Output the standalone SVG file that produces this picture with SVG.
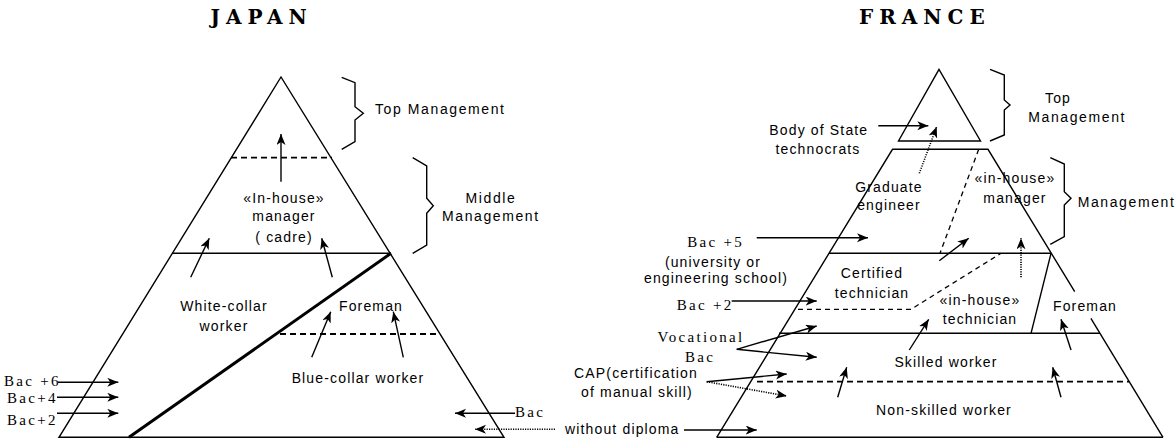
<svg xmlns="http://www.w3.org/2000/svg" width="1176" height="439" viewBox="0 0 1176 439">
<style>
.ln{fill:none;stroke:#000;stroke-width:1.4}
.thick{fill:none;stroke:#000;stroke-width:3}
.dash{fill:none;stroke:#000;stroke-width:1.8;stroke-dasharray:6 4}
.dash2{fill:none;stroke:#000;stroke-width:1.3;stroke-dasharray:5 4}
.ar{fill:none;stroke:#000;stroke-width:1.4;marker-end:url(#ah)}
.dot{fill:none;stroke:#000;stroke-width:1.6;stroke-dasharray:1.2 1.2;marker-end:url(#ah)}
.s{font-family:"Liberation Sans",Arial,sans-serif;font-size:14px;letter-spacing:1.15px;fill:#000}
.m{text-anchor:middle}
.w{letter-spacing:1.6px}
.r{font-family:"Liberation Serif","Times New Roman",serif;font-size:15px;letter-spacing:2.3px;fill:#000}
.t{font-family:"DejaVu Serif","Liberation Serif",serif;font-size:20px;font-weight:bold;letter-spacing:6px;fill:#000}
</style>
<defs>
<marker id="ah" markerWidth="12" markerHeight="10" refX="11" refY="4.5" orient="auto" markerUnits="userSpaceOnUse">
<path d="M0,0 L11,4.5 L0,9 L3,4.5 z" fill="#000"/>
</marker>
</defs>
<rect width="1176" height="439" fill="#fff"/>

<g id="title-japan"><text class="t" x="210.5" y="23.5">JAPAN</text></g>
<g id="title-france"><text class="t" x="859" y="23.5">FRANCE</text></g>

<g id="japan-pyramid">
<polygon class="ln" points="281,77 59,437.3 504,437.3"/>
<line class="ln" x1="172.5" y1="253.3" x2="391" y2="253.3"/>
<line class="thick" x1="391" y1="253.3" x2="129" y2="437.3"/>
<line class="dash" x1="231" y1="157.7" x2="332" y2="157.7"/>
<line class="dash" x1="280" y1="334" x2="440" y2="334"/>
</g>

<g id="japan-top-brace">
<path class="ln" d="M341.7,77.3 L355,82.7 L355,106.7 L363.3,113.3 L355,120 L355,141.7 L341.7,149.3"/>
<text class="s w" x="375" y="114">Top Management</text>
</g>
<g id="japan-middle-brace">
<path class="ln" d="M412.7,157.7 L426.7,166 L426.7,198.3 L433.3,205.7 L426.7,213.3 L426.7,245 L412.7,253.3"/>
<text class="s m w" x="491" y="202.7">Middle</text>
<text class="s w" x="442" y="221">Management</text>
</g>

<g id="japan-manager">
<text class="s m" x="284" y="202.7">«In-house»</text>
<text class="s m" x="284" y="220.7">manager</text>
<text class="s m" x="284" y="241.7">( cadre)</text>
</g>
<g id="japan-white-collar">
<text class="s m" x="224" y="310.7">White-collar</text>
<text class="s m" x="224" y="330.7">worker</text>
</g>
<g id="japan-foreman"><text class="s m" x="371" y="310.7">Foreman</text></g>
<g id="japan-blue-collar"><text class="s m" x="358" y="382.7">Blue-collar worker</text></g>
<g id="japan-bac6"><text class="r" x="4" y="385.7">Bac +6</text></g>
<g id="japan-bac4"><text class="r" x="7" y="403.3">Bac+4</text></g>
<g id="japan-bac2"><text class="r" x="7" y="425">Bac+2</text></g>
<g id="japan-bac"><text class="r" x="515" y="417.3">Bac</text></g>
<g id="without-diploma"><text class="s" x="565" y="434">without diploma</text></g>

<g id="france-pyramid">
<polygon class="ln" points="939,69.3 898.5,141 980.5,141"/>
<polyline class="ln" points="716.7,437.3 892.5,149.3 988,149.3 1074.7,291.7"/>
<line class="ln" x1="1090.9" y1="318.3" x2="1163" y2="437.3"/>
<line class="ln" x1="716.7" y1="437.3" x2="1163" y2="437.3"/>
<line class="ln" x1="829" y1="253.3" x2="1051" y2="253.3"/>
<line class="ln" x1="1051" y1="253.3" x2="1031" y2="333.3"/>
<line class="ln" x1="779" y1="333.3" x2="1100" y2="333.3"/>
<line class="dash" x1="757" y1="381.7" x2="1129" y2="381.7"/>
<line class="dash2" x1="978.7" y1="149.3" x2="940" y2="253.3"/>
<polyline class="dash2" points="798,309.3 911,309.3 1001,253.3"/>
</g>

<g id="france-top-brace">
<path class="ln" d="M990,69.3 L1004.3,75 L1004.3,100 L1010,105 L1004.3,110 L1004.3,135 L990,141"/>
<text class="s m" x="1058" y="103.3">Top</text>
<text class="s w" x="1028.3" y="121.7">Management</text>
</g>
<g id="france-mgmt-brace">
<path class="ln" d="M1050.3,157.7 L1064.3,164 L1064.3,191.7 L1071,198.3 L1064.3,205 L1064.3,236.7 L1050.3,244.3"/>
<text class="s w" x="1077.7" y="206.7">Management</text>
</g>

<g id="france-technocrats">
<text class="s" x="769.3" y="135">Body of State</text>
<text class="s m" x="818" y="154.3">technocrats</text>
</g>
<g id="france-graduate">
<text class="s m" x="889" y="191.7">Graduate</text>
<text class="s m" x="889" y="210">engineer</text>
</g>
<g id="france-manager">
<text class="s m" x="1015" y="183.3">«in-house»</text>
<text class="s m" x="1015" y="203.3">manager</text>
</g>
<g id="france-bac5">
<text class="r" x="687.3" y="246.7">Bac +5</text>
<text class="s m" x="713" y="266.7">(university or</text>
<text class="s m" x="716" y="283.3">engineering school)</text>
</g>
<g id="france-certified">
<text class="s m" x="872" y="278.3">Certified</text>
<text class="s m" x="872" y="298.3">technician</text>
</g>
<g id="france-bac2"><text class="r" x="676.7" y="310">Bac +2</text></g>
<g id="france-inhouse-tech">
<text class="s m" x="980" y="305">«in-house»</text>
<text class="s m" x="980" y="324.3">technician</text>
</g>
<g id="france-foreman"><text class="s m" x="1085" y="310.7">Foreman</text></g>
<g id="france-vocational">
<text class="r m" x="701" y="341.7">Vocational</text>
<text class="r m" x="700" y="361.7">Bac</text>
</g>
<g id="france-skilled"><text class="s m" x="946" y="366.7">Skilled worker</text></g>
<g id="france-cap">
<text class="s m" x="636" y="378.3">CAP(certification</text>
<text class="s m" x="637" y="396.7">of manual skill)</text>
</g>
<g id="france-nonskilled"><text class="s m" x="944" y="415">Non-skilled worker</text></g>

<g id="connectors">
<line class="ar" x1="281" y1="181.7" x2="281" y2="134"/>
<line class="ar" x1="190.7" y1="277.3" x2="209.3" y2="238.3"/>
<line class="ar" x1="332.3" y1="277.3" x2="321.7" y2="238.3"/>
<line class="ar" x1="311.7" y1="357.3" x2="330.7" y2="311.7"/>
<line class="ar" x1="403.3" y1="357.3" x2="393.3" y2="311.7"/>
<line class="ar" x1="58" y1="382.3" x2="118.3" y2="382.3"/>
<line class="ar" x1="57" y1="397.3" x2="118.3" y2="397.3"/>
<line class="ar" x1="57" y1="413.3" x2="118.3" y2="413.3"/>
<line class="ar" x1="515" y1="413.3" x2="455" y2="413.3"/>
<line class="dot" x1="555" y1="429.3" x2="475" y2="429.3"/>
<line class="ar" x1="684" y1="430" x2="756.7" y2="430"/>
<line class="ar" x1="878.3" y1="125.7" x2="928.3" y2="125.7"/>
<line class="dot" x1="919.3" y1="173.3" x2="936.7" y2="126.7"/>
<line class="ar" x1="756.7" y1="237.7" x2="868" y2="237.7"/>
<line class="ar" x1="939.3" y1="260.7" x2="968.7" y2="238.3"/>
<line class="dot" x1="1021" y1="277.3" x2="1021" y2="238.3"/>
<line class="ar" x1="731.7" y1="301" x2="816.7" y2="301"/>
<line class="ar" x1="909.3" y1="350" x2="928.7" y2="319.3"/>
<line class="ar" x1="1071" y1="350" x2="1061" y2="319.3"/>
<line class="ar" x1="736.7" y1="349.3" x2="816.7" y2="326"/>
<line class="ar" x1="736.7" y1="349.3" x2="816.7" y2="357.3"/>
<line class="ar" x1="837.7" y1="397.3" x2="846.7" y2="367.3"/>
<line class="ar" x1="1061" y1="397.3" x2="1052.7" y2="367.3"/>
<line class="ar" x1="706.7" y1="381.7" x2="786.7" y2="374"/>
<line class="dot" x1="706.7" y1="381.7" x2="786.7" y2="396"/>
</g>
</svg>
